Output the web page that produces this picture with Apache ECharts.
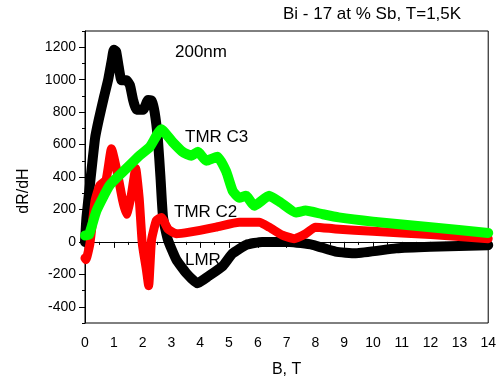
<!DOCTYPE html>
<html><head><meta charset="utf-8">
<script src="https://cdn.jsdelivr.net/npm/echarts@6/dist/echarts.min.js"></script>
<style>html,body{margin:0;padding:0;background:#fff}#c{width:499px;height:383px}</style>
</head><body><div id="c"></div>
<script>
var xTicks = [0,1,2,3,4,5,6,7,8,9,10,11,12,13,14];
var yMajorTicks = [-400,-200,0,200,400,600,800,1000,1200];
var yMinorTicks = [-500,-300,-100,100,300,500,700,900,1100,1300];

var lmrB = [0,0.05,0.17,0.35,0.48,0.66,0.8,0.93,1.0,1.08,1.17,1.27,1.44,1.56,1.67,1.79,2.02,2.19,2.31,2.42,2.53,2.62,2.71,2.88,3.17,3.52,3.9,4.3,4.77,5.12,5.6,6.15,7.1,7.9,8.7,9.4,10.8,12,14];
var lmrY = [0,150,350,640,755,894,996,1120,1185,1175,1080,996,996,966,875,815,815,875,871,797,634,400,151,12,-109,-193,-255,-210,-151,-72,-18,0,0,-18,-60,-70,-40,-30,-20];

var c2B = [0,0.03,0.17,0.35,0.52,0.73,0.92,1.14,1.31,1.44,1.61,1.76,1.88,1.99,2.13,2.21,2.31,2.48,2.65,2.88,3.17,3.63,4.55,5.36,6.05,6.39,6.85,7.26,7.66,8.0,8.7,10,12,14];
var c2Y = [-100,-110,-12,253,350,380,574,410,253,170,290,453,272,-12,-170,-270,12,133,151,80,50,60,91,121,121,91,42,20,50,91,80,65,45,20];

var c3B = [0,0.14,0.4,0.86,1.44,1.9,2.25,2.65,3.04,3.39,3.69,3.92,4.21,4.6,4.9,5.13,5.36,5.59,5.88,6.39,6.8,7.32,7.66,8.24,8.81,10,12,14];
var c3Y = [40,45,193,350,453,533,585,694,616,555,531,555,500,525,435,314,272,284,223,284,242,181,193,171,151,125,90,55];

function pairs(b, y){ return b.map(function(v,i){ return [v, y[i]]; }); }

var FONT = 'Liberation Sans, Arial, sans-serif';
var chart = echarts.init(document.getElementById('c'), null, {renderer:'canvas'});
var common = {type:'value', min:-500, max:1300};
function lineSeries(name, b, y, color, width, z){
  return {type:'line', name:name, data:pairs(b,y), showSymbol:false, smooth:0.15,
    lineStyle:{color:color,width:width,cap:'round',join:'round'}, z:z};
}
chart.setOption({
  animation:false,
  backgroundColor:'#fff',
  grid:{left:85,right:9,top:31,bottom:55,show:true,borderColor:'#000',borderWidth:1,backgroundColor:'transparent'},
  xAxis:{type:'value', min:0, max:14, interval:1,
    name:'B, T', nameLocation:'middle', nameGap:39,
    nameTextStyle:{fontFamily:FONT,fontSize:16,color:'#000'},
    axisLine:{lineStyle:{color:'#000',width:1}},
    axisTick:{length:6,lineStyle:{color:'#000'}},
    minorTick:{show:true,splitNumber:2,length:3,lineStyle:{color:'#000'}},
    axisLabel:{margin:13,fontFamily:FONT,fontSize:14,color:'#000',customValues:xTicks},
    splitLine:{show:false}},
  yAxis:[
    Object.assign({}, common, {
      axisLine:{show:true,lineStyle:{color:'#000',width:1}},
      axisTick:{show:true,length:6,customValues:yMajorTicks,lineStyle:{color:'#000'}},
      axisLabel:{margin:9,fontFamily:FONT,fontSize:14,color:'#000',customValues:yMajorTicks,
        formatter:function(v){ return String(v); }},
      splitLine:{show:false}}),
    Object.assign({}, common, {
      position:'left',
      axisLine:{show:false},
      axisTick:{show:true,length:3,customValues:yMinorTicks,lineStyle:{color:'#000'}},
      axisLabel:{show:false},
      splitLine:{show:false}})
  ],
  series:[
    lineSeries('LMR', lmrB, lmrY, '#000000', 10, 2),
    lineSeries('TMR C2', c2B, c2Y, '#ff0000', 9, 3),
    lineSeries('TMR C3', c3B, c3Y, '#00ff00', 10, 4)
  ],
  graphic:[
    {type:'text', left:283, top:6, style:{text:'Bi - 17 at % Sb, T=1,5K', font:'17px '+FONT, fill:'#000'}, z:10},
    {type:'text', x:24, y:191, rotation:Math.PI/2, style:{text:'dR/dH', font:'16px '+FONT, fill:'#000', align:'center', verticalAlign:'middle'}, z:10},
    {type:'text', left:175, top:44, style:{text:'200nm', font:'17px '+FONT, fill:'#000'}, z:10},
    {type:'text', left:185, top:129, style:{text:'TMR C3', font:'17px '+FONT, fill:'#000'}, z:10},
    {type:'text', left:174, top:204, style:{text:'TMR C2', font:'17px '+FONT, fill:'#000'}, z:10},
    {type:'text', left:185, top:252, style:{text:'LMR', font:'17px '+FONT, fill:'#000'}, z:10}
  ]
});
</script></body></html>
